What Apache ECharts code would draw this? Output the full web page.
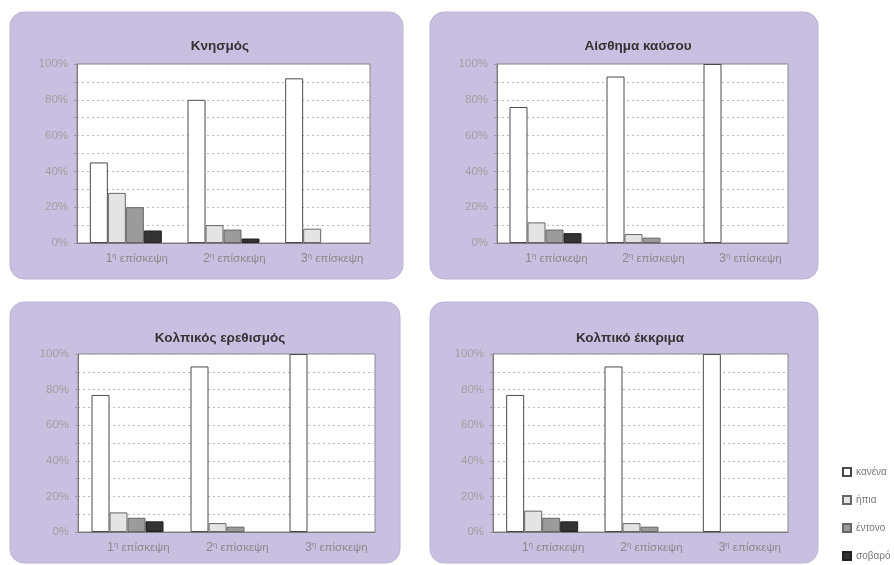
<!DOCTYPE html>
<html>
<head>
<meta charset="utf-8">
<script src="https://cdn.jsdelivr.net/npm/echarts@6/dist/echarts.min.js"></script>
<style>
html,body{margin:0;padding:0;background:#fff;}
#c{width:894px;height:565px;}
</style>
</head>
<body>
<div id="c"></div>
<script>
// ---- data ----
var categories = ['1η επίσκεψη', '2η επίσκεψη', '3η επίσκεψη'];
var severities = ['κανένα', 'ήπια', 'έντονο', 'σοβαρό'];
var panelTitles = ['Κνησμός', 'Αίσθημα καύσου', 'Κολπικός ερεθισμός', 'Κολπικό έκκριμα'];
var yTicks = [0, 20, 40, 60, 80, 100];

// values per panel: [κανένα, ήπια, έντονο, σοβαρό] for each visit
var knismos_kanena = [45, 80, 92];
var knismos_ipia   = [28, 10, 8];
var knismos_entono = [20, 7.5, 0];
var knismos_sovaro = [7, 2.5, 0];

var kausos_kanena = [76, 93, 100];
var kausos_ipia   = [11.5, 5, 0];
var kausos_entono = [7.5, 3, 0];
var kausos_sovaro = [5.5, 0, 0];

var erethismos_kanena = [77, 93, 100];
var erethismos_ipia   = [11, 5, 0];
var erethismos_entono = [8, 3, 0];
var erethismos_sovaro = [6, 0, 0];

var ekkrima_kanena = [77, 93, 100];
var ekkrima_ipia   = [12, 5, 0];
var ekkrima_entono = [8, 3, 0];
var ekkrima_sovaro = [6, 0, 0];

var panelData = [
  [knismos_kanena, knismos_ipia, knismos_entono, knismos_sovaro],
  [kausos_kanena, kausos_ipia, kausos_entono, kausos_sovaro],
  [erethismos_kanena, erethismos_ipia, erethismos_entono, erethismos_sovaro],
  [ekkrima_kanena, ekkrima_ipia, ekkrima_entono, ekkrima_sovaro]
];

// ---- layout / style ----
var FONT = "'Liberation Sans Narrow', 'Liberation Sans', Arial, sans-serif";
var fills = ['#ffffff', '#e4e4e4', '#9b9b9b', '#333333'];
var borders = ['#4a4a4a', '#666666', '#666666', '#222222'];
var panels = [
  {x: 10, y: 12, w: 393, h: 267},
  {x: 430, y: 12, w: 388, h: 267},
  {x: 10, y: 302, w: 390, h: 261},
  {x: 430, y: 302, w: 388, h: 261}
];
var grids = [
  {left: 77, top: 64, width: 293, height: 179},
  {left: 497, top: 64, width: 291, height: 179},
  {left: 78, top: 354, width: 297, height: 178},
  {left: 493, top: 354, width: 295, height: 178}
];
var titlePos = [
  {x: 215, y: 34},
  {x: 633, y: 34},
  {x: 215, y: 326},
  {x: 625, y: 326}
];

var option = {
  backgroundColor: '#ffffff',
  animation: false,
  textStyle: {fontFamily: FONT},
  graphic: panels.map(function (p) {
    return {
      type: 'rect', z: -10,
      shape: {x: p.x, y: p.y, width: p.w, height: p.h, r: 14},
      style: {fill: '#c9bfe0', stroke: '#bdb2d6', lineWidth: 1}
    };
  }),
  title: panelTitles.map(function (t, i) {
    return {
      text: t, left: titlePos[i].x, top: titlePos[i].y, textAlign: 'center',
      textStyle: {fontFamily: FONT, fontSize: 13.5, fontWeight: 'bold', color: '#333333'}
    };
  }),
  legend: {
    orient: 'vertical', left: 842, top: 466, padding: 0,
    icon: 'rect',
    itemWidth: 8, itemHeight: 8, itemGap: 16,
    data: severities,
    textStyle: {fontFamily: FONT, fontSize: 10, color: '#777777', lineHeight: 12}
  },
  grid: grids.map(function (g) {
    return {left: g.left, top: g.top, width: g.width, height: g.height,
      show: true, backgroundColor: '#ffffff', borderColor: '#8a8a8a', borderWidth: 1};
  }),
  xAxis: grids.map(function (g, i) {
    return {
      type: 'category', gridIndex: i, data: categories,
      axisLine: {lineStyle: {color: '#7a7a7a'}},
      axisTick: {show: false},
      splitLine: {show: false},
      axisLabel: {
        interval: 0, margin: 9, padding: [0, 0, 0, 22],
        formatter: function (v) {
          return '{n|' + v.charAt(0) + '}{s|' + v.charAt(1) + '} {t|' + v.slice(3) + '}';
        },
        rich: {
          n: {fontFamily: FONT, fontSize: 12, color: '#8a8a8a'},
          s: {fontFamily: FONT, fontSize: 7.5, color: '#8a8a8a', verticalAlign: 'top', padding: [0, 0, 5, 0]},
          t: {fontFamily: FONT, fontSize: 11.5, color: '#8a8a8a'}
        }
      }
    };
  }),
  yAxis: grids.map(function (g, i) {
    return {
      type: 'value', gridIndex: i, min: 0, max: 100, interval: 10,
      axisLine: {show: true, lineStyle: {color: '#7a7a7a'}},
      axisTick: {show: true, length: 3, lineStyle: {color: '#9a9a9a'}},
      axisLabel: {
        margin: 9, fontFamily: FONT, fontSize: 11.5, color: '#a0a0a0',
        formatter: function (v) { return yTicks.indexOf(v) >= 0 ? v + '%' : ''; }
      },
      splitLine: {show: true, lineStyle: {color: '#b8b8b8', type: [2, 3], width: 1}}
    };
  }),
  series: []
};

panelData.forEach(function (sets, pi) {
  sets.forEach(function (vals, si) {
    option.series.push({
      type: 'bar', name: severities[si],
      xAxisIndex: pi, yAxisIndex: pi,
      // zero shares are not drawn in the reference
      data: vals.map(function (v) { return v === 0 ? '-' : v; }),
      barWidth: 18, barGap: '0%',
      itemStyle: {color: fills[si], borderColor: borders[si], borderWidth: 1}
    });
  });
});

var chart = echarts.init(document.getElementById('c'));
chart.setOption(option);
</script>
</body>
</html>
